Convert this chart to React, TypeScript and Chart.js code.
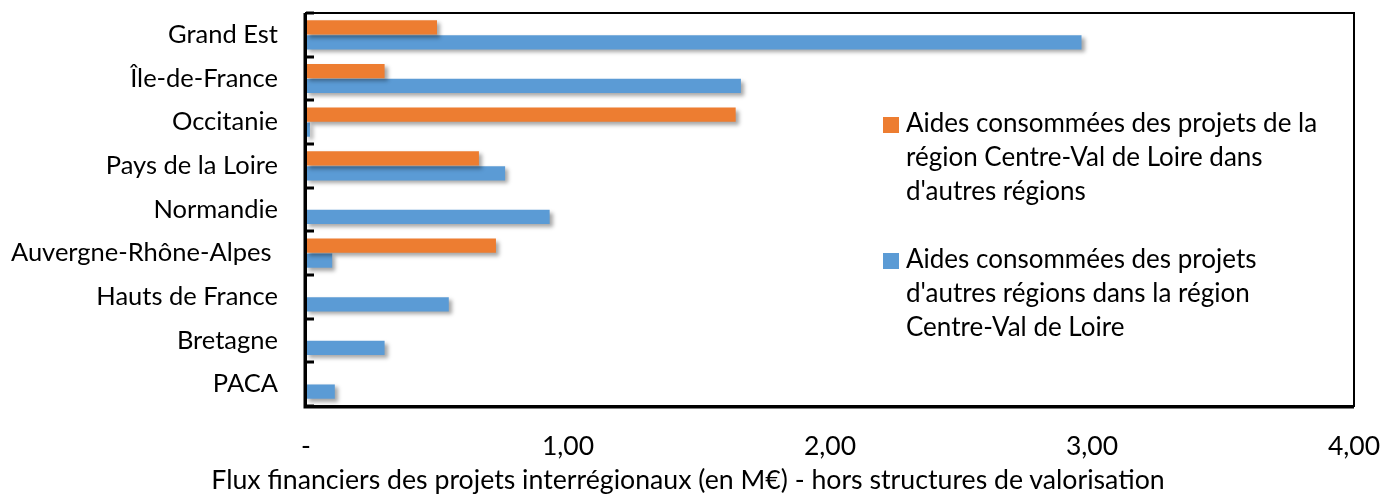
import React, { useEffect, useRef } from "react";
import { Chart, registerables } from "chart.js";

Chart.register(...registerables);

const categories = [
  "Grand Est",
  "Île-de-France",
  "Occitanie",
  "Pays de la Loire",
  "Normandie",
  "Auvergne-Rhône-Alpes ",
  "Hauts de France",
  "Bretagne",
  "PACA",
];
const seriesOutLabel = [
  "Aides consommées des projets de la",
  "région Centre-Val de Loire dans",
  "d'autres régions",
];
const seriesInLabel = [
  "Aides consommées des projets",
  "d'autres régions dans la région",
  "Centre-Val de Loire",
];
const seriesOut = [0.5, 0.3, 1.64, 0.66, 0, 0.725, 0, 0, 0];
const seriesIn = [2.96, 1.66, 0.015, 0.76, 0.93, 0.1, 0.545, 0.3, 0.11];
const xTickLabels = ["-", "1,00", "2,00", "3,00", "4,00"];
const xTitle = "Flux financiers des projets interrégionaux (en M€) - hors structures de valorisation";

const ORANGE = "#ED7D31";
const BLUE = "#5B9BD5";
const FONT = "Lato";

const framePlugin = {
  id: "frame",
  beforeDatasetsDraw(chart: any) {
    const ctx = chart.ctx;
    ctx.save();
    ctx.shadowColor = "rgba(0,0,0,0.35)";
    ctx.shadowBlur = 4;
    ctx.shadowOffsetX = 3;
    ctx.shadowOffsetY = 3;
  },
  afterDatasetsDraw(chart: any) {
    chart.ctx.restore();
  },
  afterDraw(chart: any) {
    const ctx = chart.ctx;
    const a = chart.chartArea;
    const y = chart.scales.y;
    ctx.save();
    ctx.strokeStyle = "#000";
    ctx.lineWidth = 2;
    ctx.strokeRect(a.left, a.top, a.right - a.left, a.bottom - a.top);
    ctx.lineWidth = 3;
    ctx.beginPath();
    ctx.moveTo(a.left - 1, a.top);
    ctx.lineTo(a.left - 1, a.bottom + 1);
    ctx.lineTo(a.right, a.bottom + 1);
    for (let i = 0; i <= categories.length; i++) {
      const py = Math.round(y.getPixelForValue(i - 0.5));
      ctx.moveTo(a.left, py);
      ctx.lineTo(a.left + 8, py);
    }
    ctx.stroke();
    ctx.restore();
  },
};

export default function App() {
  const ref = useRef<HTMLCanvasElement>(null);
  useEffect(() => {
    document.body.style.margin = "0";
    const chart = new Chart(ref.current!, {
      type: "bar",
      data: {
        labels: categories,
        datasets: [
          {
            label: seriesOutLabel.join(" "),
            data: seriesOut,
            backgroundColor: ORANGE,
            categoryPercentage: 0.68,
            barPercentage: 0.96,
          },
          {
            label: seriesInLabel.join(" "),
            data: seriesIn,
            backgroundColor: BLUE,
            categoryPercentage: 0.68,
            barPercentage: 0.96,
          },
        ],
      },
      options: {
        indexAxis: "y",
        animation: false,
        responsive: true,
        maintainAspectRatio: false,
        layout: { padding: { top: 13, right: 27, left: 0, bottom: 0 } },
        plugins: {
          legend: { display: false },
          tooltip: { enabled: false },
        },
        scales: {
          x: {
            min: 0,
            max: 4,
            ticks: {
              stepSize: 1,
              padding: 17,
              maxRotation: 0,
              color: "#000",
              font: { family: FONT, size: 26.5 },
              callback: (v: any) => xTickLabels[Number(v)],
            },
            grid: { display: false },
            border: { display: false },
            afterFit: (s: any) => {
              s.height = 89;
              s.paddingLeft = 0;
              s.paddingRight = 0;
            },
          },
          y: {
            ticks: {
              padding: 20,
              color: "#000",
              font: { family: FONT, size: 25.5 },
            },
            grid: { display: false },
            border: { display: false },
            afterFit: (s: any) => {
              s.width = 306;
              s.paddingTop = 0;
              s.paddingBottom = 0;
            },
          },
        },
      },
      plugins: [framePlugin],
    });
    return () => chart.destroy();
  }, []);

  const legendItem = (color: string, lines: string[], top: number) => (
    <div
      style={{
        position: "absolute",
        left: 883,
        top,
        display: "flex",
        alignItems: "flex-start",
        fontFamily: FONT,
        fontSize: 26,
        lineHeight: "34px",
        color: "#000",
        whiteSpace: "nowrap",
      }}
    >
      <div style={{ width: 16, height: 16, background: color, marginTop: 12, marginRight: 7, flex: "none" }} />
      <div>
        {lines.map((l, i) => (
          <div key={i}>{l}</div>
        ))}
      </div>
    </div>
  );

  return (
    <div style={{ position: "fixed", left: 0, top: 0, width: 1381, height: 495, background: "#fff", overflow: "hidden" }}>
      <canvas ref={ref} />
      {legendItem(ORANGE, seriesOutLabel, 105)}
      {legendItem(BLUE, seriesInLabel, 241)}
      <div
        style={{
          position: "absolute",
          left: 0,
          width: 1376,
          top: 464,
          textAlign: "center",
          fontFamily: FONT,
          fontSize: 26.7,
          lineHeight: "30px",
          color: "#000",
          whiteSpace: "nowrap",
        }}
      >
        {xTitle}
      </div>
    </div>
  );
}
